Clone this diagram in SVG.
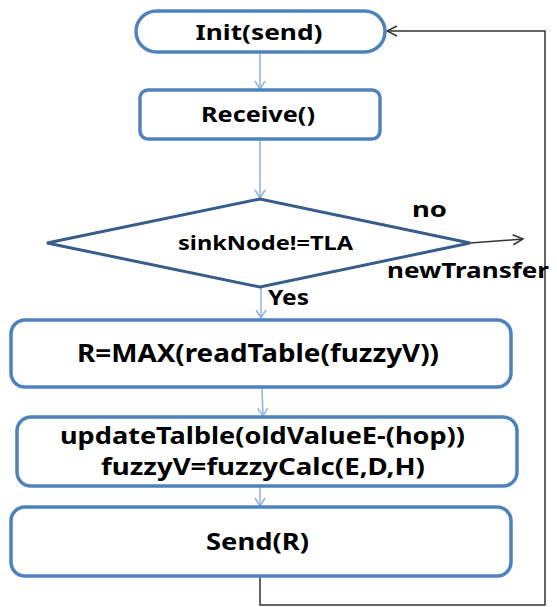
<svg xmlns="http://www.w3.org/2000/svg" width="557" height="607" viewBox="0 0 557 607">
<defs>
<style>
.node{fill:#fff;stroke:#4F81BD;stroke-width:3.5}
.dia{fill:#fff;stroke:#385D8A;stroke-width:3}
.t{font-family:"Noto Sans","Open Sans","Liberation Sans",sans-serif;font-weight:bold;fill:#000;text-anchor:middle}
.lbl{font-family:"Noto Sans","Open Sans","Liberation Sans",sans-serif;font-weight:bold;fill:#000}
.c{fill:none;stroke:#8DB3E2;stroke-width:1.5}
.k{fill:none;stroke:#333;stroke-width:1.5}
</style>
<marker id="ab" markerWidth="10" markerHeight="12" refX="9" refY="6" orient="auto" markerUnits="userSpaceOnUse">
<path d="M1,1 L9,6 L1,11" fill="none" stroke="#8DB3E2" stroke-width="1.5"/>
</marker>
<marker id="ak" markerWidth="12" markerHeight="12" refX="11" refY="6" orient="auto" markerUnits="userSpaceOnUse">
<path d="M1,1 L11,6 L1,11" fill="none" stroke="#333" stroke-width="1.5"/>
</marker>
</defs>
<rect width="557" height="607" fill="#fff"/>
<g id="connectors">
<line class="c" x1="260" y1="52" x2="260" y2="89" marker-end="url(#ab)"/>
<line class="c" x1="260" y1="139" x2="260" y2="198" marker-end="url(#ab)"/>
<line class="c" x1="261" y1="288" x2="261" y2="318" marker-end="url(#ab)"/>
<line class="c" x1="262" y1="388" x2="263" y2="416" marker-end="url(#ab)"/>
<line class="c" x1="260" y1="487" x2="260" y2="506" marker-end="url(#ab)"/>
<line class="k" x1="470" y1="243" x2="523" y2="239" marker-end="url(#ak)"/>
<polyline class="k" points="260,577 260,605 545,605 545,31 387,31" marker-end="url(#ak)"/>
</g>
<g id="init">
<rect class="node" x="136" y="11" width="249" height="41" rx="20.5"/>
<text class="t" x="259" y="40" font-size="22" textLength="127" lengthAdjust="spacingAndGlyphs">Init(send)</text>
</g>
<g id="receive">
<rect class="node" x="140" y="90" width="240" height="49" rx="8"/>
<text class="t" x="258" y="122" font-size="22" textLength="114" lengthAdjust="spacingAndGlyphs">Receive()</text>
</g>
<g id="decision">
<polygon class="dia" points="47,243 260,199 470,243 260,287"/>
<text class="t" x="265.5" y="250" font-size="19" textLength="175" lengthAdjust="spacingAndGlyphs">sinkNode!=TLA</text>
</g>
<g id="labels">
<text class="lbl" x="412" y="217" font-size="21" textLength="35" lengthAdjust="spacingAndGlyphs">no</text>
<text class="lbl" x="387" y="278" font-size="21" textLength="162" lengthAdjust="spacingAndGlyphs">newTransfer</text>
<text class="lbl" x="268" y="305" font-size="21" textLength="41" lengthAdjust="spacingAndGlyphs">Yes</text>
</g>
<g id="rmax">
<rect class="node" x="11" y="320" width="500" height="67" rx="14"/>
<text class="t" x="258" y="362" font-size="25" textLength="362" lengthAdjust="spacingAndGlyphs">R=MAX(readTable(fuzzyV))</text>
</g>
<g id="update">
<rect class="node" x="17" y="417" width="500" height="69" rx="14"/>
<text class="t" x="262.5" y="444" font-size="24" textLength="405" lengthAdjust="spacingAndGlyphs">updateTalble(oldValueE-(hop))</text>
<text class="t" x="263" y="475" font-size="24" textLength="324" lengthAdjust="spacingAndGlyphs">fuzzyV=fuzzyCalc(E,D,H)</text>
</g>
<g id="send">
<rect class="node" x="11" y="507" width="500" height="69" rx="14"/>
<text class="t" x="257.5" y="550" font-size="24" textLength="103" lengthAdjust="spacingAndGlyphs">Send(R)</text>
</g>
</svg>
